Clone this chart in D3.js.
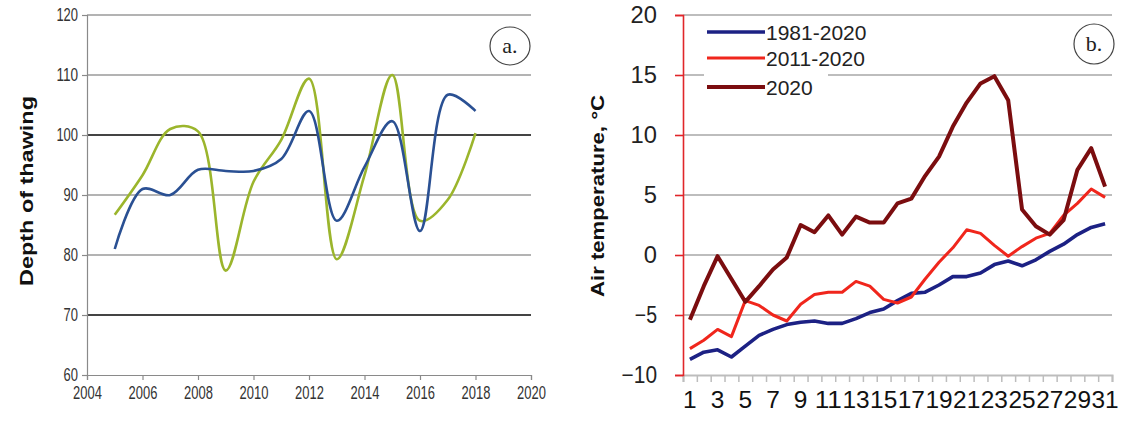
<!DOCTYPE html>
<html>
<head>
<meta charset="utf-8">
<script src="https://cdn.jsdelivr.net/npm/d3@7"></script>
<style>
  html, body { margin: 0; padding: 0; background: #fff; }
  svg { display: block; }
  .sans { font-family: "Liberation Sans", Arial, sans-serif; }
</style>
</head>
<body>
<svg id="chart" width="1140" height="422"></svg>
<script>
// ---------- Panel a: depth of thawing ----------
const years = [2005, 2006, 2007, 2008, 2009, 2010, 2011, 2012, 2013, 2014, 2015, 2016, 2017, 2018];
const depthBlue  = [81, 91, 90, 94.2, 94, 94, 96, 104, 85.7, 94.7, 102.3, 84, 106.7, 104];
const depthGreen = [86.7, 93.3, 101, 100.6, 77.4, 92.2, 99.2, 109.4, 79.3, 93.3, 110, 85.7, 89.2, 100.3];
const depthYTicks = [60, 70, 80, 90, 100, 110, 120];
const depthXTicks = [2004, 2006, 2008, 2010, 2012, 2014, 2016, 2018, 2020];

// ---------- Panel b: air temperature ----------
const days = d3.range(1, 32);
const temp1981_2020 = [-8.7, -8.1, -7.9, -8.5, -7.6, -6.7, -6.2, -5.8, -5.6, -5.5, -5.7, -5.7, -5.3, -4.8, -4.5, -3.8, -3.2, -3.1, -2.5, -1.8, -1.8, -1.5, -0.8, -0.5, -0.9, -0.4, 0.3, 0.9, 1.7, 2.3, 2.6];
const temp2011_2020 = [-7.8, -7.1, -6.2, -6.8, -3.8, -4.2, -5.0, -5.5, -4.1, -3.3, -3.1, -3.1, -2.2, -2.6, -3.7, -4.0, -3.5, -2.0, -0.6, 0.6, 2.1, 1.8, 0.8, -0.1, 0.7, 1.4, 1.8, 3.3, 4.3, 5.5, 4.8];
const temp2020 = [-5.4, -2.6, -0.1, -2.0, -3.9, -2.6, -1.2, -0.2, 2.5, 1.9, 3.3, 1.7, 3.2, 2.7, 2.7, 4.3, 4.7, 6.6, 8.2, 10.7, 12.7, 14.3, 14.9, 12.9, 3.8, 2.4, 1.7, 2.9, 7.1, 8.9, 5.7];
const tempYTicks = [-10, -5, 0, 5, 10, 15, 20];
const dayLabels = days.filter(d => d % 2 === 1);
const legendNames = ["1981-2020", "2011-2020", "2020"];

const svg = d3.select("#chart");
const digitCount = s => String(s).replace(/[^0-9]/g, "").length;

// ======== Panel a ========
const xA = d3.scaleLinear().domain([2004, 2020]).range([87, 531]);
const yA = d3.scaleLinear().domain([60, 120]).range([375, 15]);
const gA = svg.append("g");

gA.selectAll("line.grid").data(depthYTicks.filter(d => d > 60)).join("line")
  .attr("x1", xA(2004)).attr("x2", xA(2020))
  .attr("y1", d => yA(d)).attr("y2", d => yA(d))
  .attr("stroke", d => (d === 100 || d === 70) ? "#444" : "#9a9a9a")
  .attr("stroke-width", d => (d === 100 || d === 70) ? 1.8 : 1.6);

const axAY = gA.append("g").attr("transform", `translate(${xA(2004)},0)`)
  .call(d3.axisLeft(yA).tickValues(depthYTicks).tickSize(5).tickPadding(4));
const axAX = gA.append("g").attr("transform", `translate(0,${yA(60)})`)
  .call(d3.axisBottom(xA).tickValues(depthXTicks).tickFormat(d3.format("d")).tickSize(5).tickPadding(6));
[axAY, axAX].forEach(ax => {
  ax.select(".domain").attr("stroke", "#8a8a8a").attr("stroke-width", 1.2);
  ax.selectAll(".tick line").attr("stroke", "#8a8a8a").attr("stroke-width", 1.2);
  ax.selectAll(".tick text").attr("class", "sans").attr("font-size", 18).attr("fill", "#333")
    .attr("textLength", function () { return 7.2 * digitCount(this.textContent); })
    .attr("lengthAdjust", "spacingAndGlyphs");
});

const lineA = d3.line().x((d, i) => xA(years[i])).y(d => yA(d)).curve(d3.curveCatmullRom.alpha(0.5));
gA.append("path").datum(depthGreen).attr("d", lineA)
  .attr("fill", "none").attr("stroke", "#9bb52c").attr("stroke-width", 2.6);
gA.append("path").datum(depthBlue).attr("d", lineA)
  .attr("fill", "none").attr("stroke", "#2a5093").attr("stroke-width", 2.6);

gA.append("text").attr("class", "sans")
  .attr("transform", "translate(33,191) rotate(-90)")
  .attr("text-anchor", "middle").attr("font-weight", "bold").attr("font-size", 19)
  .attr("textLength", 190).attr("lengthAdjust", "spacingAndGlyphs")
  .attr("fill", "#111").text("Depth of thawing");

gA.append("ellipse").attr("cx", 510).attr("cy", 46).attr("rx", 20).attr("ry", 19)
  .attr("fill", "#fff").attr("stroke", "#444").attr("stroke-width", 1.2);
gA.append("text").attr("x", 510).attr("y", 53).attr("text-anchor", "middle")
  .attr("font-family", "Liberation Serif, serif").attr("font-size", 22).attr("fill", "#222").text("a.");

// ======== Panel b ========
const xB = d3.scaleBand().domain(days).range([683, 1112]);
const xBEdges = d3.scaleLinear().domain([0, 31]).range([683, 1112]);
const yB = d3.scaleLinear().domain([-10, 20]).range([375, 15]);
const gB = svg.append("g");

gB.selectAll("line.grid").data(tempYTicks.filter(d => d > -10)).join("line")
  .attr("x1", 683).attr("x2", 1112)
  .attr("y1", d => yB(d)).attr("y2", d => yB(d))
  .attr("stroke", "#bdbdbd").attr("stroke-width", 2);

const axBX = gB.append("g").attr("transform", `translate(0,${yB(-10)})`)
  .call(d3.axisBottom(xBEdges).tickValues(d3.range(0, 32)).tickFormat("").tickSize(7));
axBX.select(".domain").attr("stroke", "#bdbdbd").attr("stroke-width", 2);
axBX.selectAll(".tick line").attr("stroke", "#bdbdbd").attr("stroke-width", 1.5);

const axBL = gB.append("g").attr("transform", `translate(0,${yB(-10)})`)
  .call(d3.axisBottom(xB).tickValues(dayLabels).tickSize(0).tickPadding(17));
axBL.select(".domain").remove();
axBL.selectAll(".tick text").attr("class", "sans").attr("font-size", 23).attr("fill", "#111")
  .attr("textLength", function () { return 13.6 * digitCount(this.textContent); })
  .attr("lengthAdjust", "spacingAndGlyphs");

const axBY = gB.append("g").attr("transform", `translate(683,0)`)
  .call(d3.axisLeft(yB).tickValues(tempYTicks).tickSize(8).tickPadding(18));
axBY.select(".domain").attr("stroke", "#e0262a").attr("stroke-width", 1.6);
axBY.selectAll(".tick line").attr("stroke", "#e0262a").attr("stroke-width", 1.6);
axBY.selectAll(".tick text").attr("class", "sans").attr("font-size", 23).attr("fill", "#222")
  .attr("textLength", function () { const t = this.textContent; return 13.2 * digitCount(t) + (/[-\u2212]/.test(t) ? 9 : 0); })
  .attr("lengthAdjust", "spacingAndGlyphs");

const lineB = d3.line().x((d, i) => xB(days[i]) + xB.bandwidth() / 2).y(d => yB(d));
gB.append("path").datum(temp1981_2020).attr("d", lineB)
  .attr("fill", "none").attr("stroke", "#1c2184").attr("stroke-width", 3.6).attr("stroke-linejoin", "round");
gB.append("path").datum(temp2011_2020).attr("d", lineB)
  .attr("fill", "none").attr("stroke", "#f0261c").attr("stroke-width", 3).attr("stroke-linejoin", "round");
gB.append("path").datum(temp2020).attr("d", lineB)
  .attr("fill", "none").attr("stroke", "#7b0d0f").attr("stroke-width", 4).attr("stroke-linejoin", "round");

gB.append("text").attr("class", "sans")
  .attr("transform", "translate(604,196) rotate(-90)")
  .attr("text-anchor", "middle").attr("font-weight", "bold").attr("font-size", 19)
  .attr("textLength", 202).attr("lengthAdjust", "spacingAndGlyphs")
  .attr("fill", "#111").text("Air temperature, °C");

const legColors = ["#1c2184", "#f0261c", "#7b0d0f"];
const legWidths = [3.6, 3, 4];
const legY = [32, 58, 87];
gB.append("rect").attr("x", 704).attr("y", 20).attr("width", 124).attr("height", 80).attr("fill", "#fff");
const leg = gB.selectAll("g.leg").data(legendNames).join("g");
leg.append("line").attr("x1", 707).attr("x2", 765)
  .attr("y1", (d, i) => legY[i]).attr("y2", (d, i) => legY[i])
  .attr("stroke", (d, i) => legColors[i]).attr("stroke-width", (d, i) => legWidths[i]);
leg.append("text").attr("class", "sans").attr("x", 766).attr("y", (d, i) => legY[i] + 7.5)
  .attr("font-size", 21).attr("fill", "#222").text(d => d);

gB.append("ellipse").attr("cx", 1094).attr("cy", 44).attr("rx", 20).attr("ry", 20)
  .attr("fill", "#fff").attr("stroke", "#444").attr("stroke-width", 1.2);
gB.append("text").attr("x", 1094).attr("y", 51).attr("text-anchor", "middle")
  .attr("font-family", "Liberation Serif, serif").attr("font-size", 22).attr("fill", "#222").text("b.");
</script>
</body>
</html>
